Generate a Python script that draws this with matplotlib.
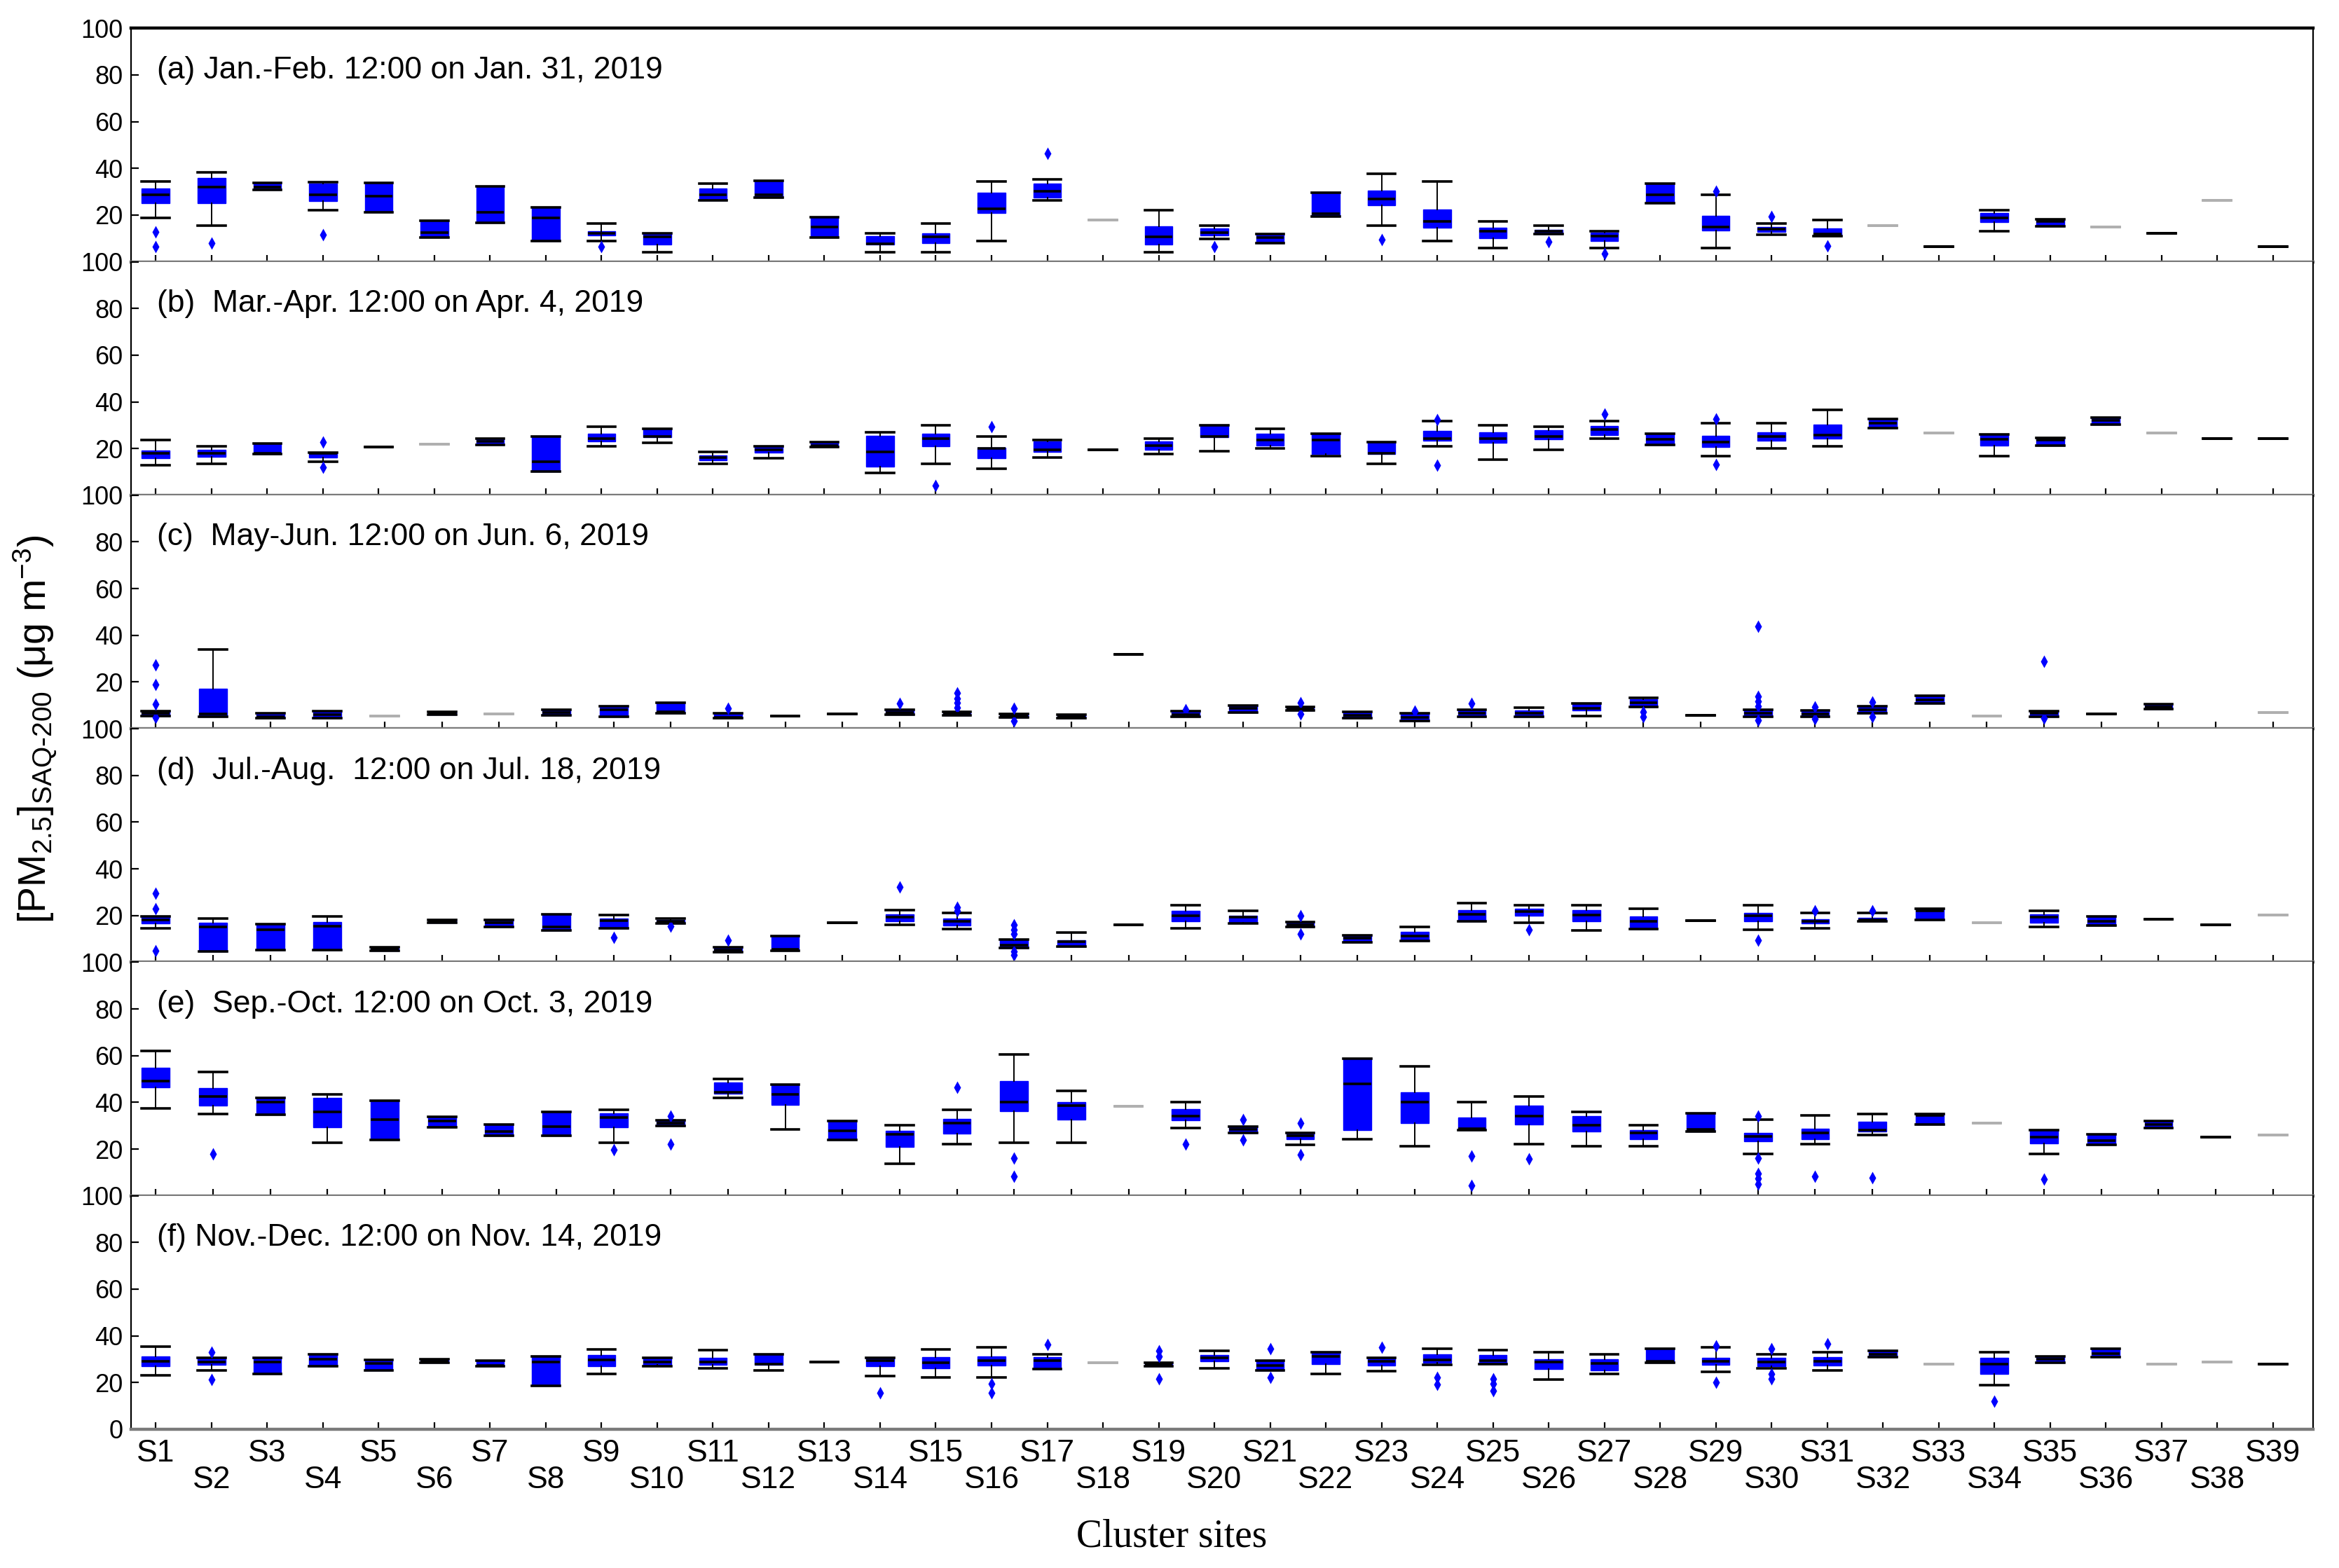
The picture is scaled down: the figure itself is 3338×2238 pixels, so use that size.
import numpy as np
import matplotlib.pyplot as plt

plt.rcParams['font.family'] = ['Liberation Sans', 'DejaVu Sans']
plt.rcParams['mathtext.default'] = 'regular'

nan = np.nan
sites = [f"S{i}" for i in range(1, 40)]

titles = ["(a) Jan.-Feb. 12:00 on Jan. 31, 2019",
          "(b)  Mar.-Apr. 12:00 on Apr. 4, 2019",
          "(c)  May-Jun. 12:00 on Jun. 6, 2019",
          "(d)  Jul.-Aug.  12:00 on Jul. 18, 2019",
          "(e)  Sep.-Oct. 12:00 on Oct. 3, 2019",
          "(f) Nov.-Dec. 12:00 on Nov. 14, 2019"]

# ---- (a) Jan.-Feb. (39 sites) ----
q1_a = [25.2, 25.2, 30.8, 26, 21.2, 10.3, 16.8, 8.8, 11.2, 7.3,
        26.2, 27.5, 10.5, 7.3, 8, 20.8, 27.5, 18, 7.3, 11.2,
        8, 19.5, 24.2, 14.5, 10.2, 12, 9, 25.2, 13.5, 12.8,
        11, 15.5, 6.5, 17, 15.3, 15, 12.3, 26.2, 6.5]
med_a = [28.7, 32, 32, 28.7, 28, 12.5, 21.3, 18.8, 12.3, 10.8,
         28.7, 28.8, 14.8, 7.8, 10.8, 22.8, 30.3, 18, 10.7, 12.5,
         10.5, 20.5, 27, 17.2, 13, 13, 11, 28.7, 14.8, 14,
         12, 15.5, 6.5, 18.8, 17.2, 15, 12.3, 26.2, 6.5]
q3_a = [31.5, 36, 33.7, 33.5, 33.7, 17.5, 32.2, 23.2, 13, 12.3,
        31.5, 34.7, 19, 11, 12.3, 29.5, 33.5, 18, 15.2, 14.2,
        11.8, 29.5, 30.5, 22.5, 14.5, 13.8, 12.5, 33.5, 19.8, 15,
        14.2, 15.5, 6.5, 21, 18.2, 15, 12.3, 26.2, 6.5]
lo_a = [18.8, 15.5, nan, 22.2, nan, nan, nan, nan, 9, 4,
        nan, nan, nan, 4, 4, 9, 26.2, nan, 4, 9.8,
        nan, nan, 15.5, 9, 5.8, nan, 5.8, nan, 5.8, 11.5,
        nan, nan, nan, 13, nan, nan, nan, nan, nan]
hi_a = [34.5, 38.3, nan, 34.2, nan, nan, nan, nan, 16.3, nan,
        33.5, nan, nan, 12.3, 16.3, 34.5, 35.2, nan, 22.2, 15.5,
        nan, nan, 37.6, 34.4, 17.2, 15.5, 13, nan, 28.7, 16.3,
        17.8, nan, nan, 22.2, nan, nan, nan, nan, nan]
out_a = {1: [12.7, 6.5], 2: [8], 4: [11.5], 9: [6.5], 17: [46.5],
         20: [6.5], 23: [9.5], 26: [8.5], 27: [3.5], 29: [30.2],
         30: [19.3], 31: [6.8]}
faint_a = [18, 32, 36, 38]

# ---- (b) Mar.-Apr. (39 sites) ----
q1_b = [15.9, 16.4, 17.6, 16.2, 20.7, 21.9, 21.6, 10.2, 23.2, 24.9,
        15.1, 18.4, 20.6, 12.2, 20.9, 15.9, 18.6, 19.4, 19.4, 24.9,
        21.2, 17.6, 17.6, 23.4, 22.4, 23.9, 25.7, 21.6, 20.6, 23.4,
        24.2, 28.9, 26.7, 21.4, 21.2, 30.3, 26.7, 24.2, 24.2]
med_b = [17.9, 18.1, 17.9, 17.9, 20.7, 21.9, 23.2, 14.4, 24.4, 25.2,
         16.2, 19.4, 21.4, 18.7, 24.4, 20.2, 19.5, 19.4, 21.4, 25.2,
         23.6, 23.6, 18, 24.4, 24.4, 25.2, 28.1, 23.9, 22.9, 25.1,
         25.9, 30.8, 26.7, 23.9, 23.6, 32.1, 26.7, 24.2, 24.2]
q3_b = [19.2, 19.4, 22.2, 18.4, 20.7, 21.9, 24.4, 25.2, 26.4, 28.4,
        17.2, 20.9, 22.9, 25.4, 26.4, 20.4, 23, 19.4, 23.2, 30,
        26.4, 26.4, 22.9, 27.6, 26.9, 27.9, 29.6, 26.4, 25.4, 27.1,
        30.3, 32.8, 26.7, 26.2, 24.6, 33.3, 26.7, 24.2, 24.2]
lo_b = [12.9, 13.4, nan, 14.4, nan, nan, nan, nan, 21.1, 22.6,
        13.4, 15.9, nan, 9.7, 13.6, 11.4, 16.1, nan, 17.6, 18.9,
        20.2, 16.9, 13.6, 20.9, 15.4, 19.4, 24.2, nan, 16.9, 20.2,
        21.1, nan, nan, 16.9, nan, nan, nan, nan, nan]
hi_b = [23.6, 21.1, nan, nan, nan, nan, nan, nan, 29.4, 28.6,
        18.7, 21.1, nan, 26.9, 29.9, 25.1, 23.6, nan, 24.4, nan,
        28.4, nan, nan, 31.8, 29.9, 29.4, 31.8, nan, 30.8, 30.8,
        36.5, nan, nan, nan, nan, nan, nan, nan, nan]
out_b = {4: [22.9, 11.9], 15: [4.3], 16: [29.4], 24: [32.5, 12.9],
         27: [34.8], 29: [32.8, 13.2]}
faint_b = [6, 33, 37]

# ---- (c) May-Jun. (38 sites) ----
q1_c = [5.4, 5.2, 4.4, 4.4, 5.4, 6, 6.4, 5.7, 5, 6.7,
        4.4, 5.4, 6.2, 6, 5.7, 4.7, 4.4, 31.7, 5.2, 7,
        7.7, 4.4, 3.4, 5.2, 5.2, 7.7, 9.2, 5.7, 5.2, 5.2,
        6.7, 10.7, 5.4, 5.2, 6.4, 8.4, nan, 7]
med_c = [6.7, 6.4, 5, 6, 5.4, 6.6, 6.4, 7, 8.2, 7.2,
         4.7, 5.4, 6.2, 7, 6.7, 5.5, 5.2, 31.7, 6, 8.7,
         8.4, 5.7, 4.7, 6.7, 6.7, 8.7, 11.2, 5.7, 6.7, 6.4,
         8.2, 12.4, 5.4, 6.7, 6.4, 9.4, nan, 7]
q3_c = [7.4, 17.2, 6.5, 7.4, 5.4, 7.2, 6.4, 8, 9.7, 11,
        6.7, 5.4, 6.2, 8, 7.2, 6.4, 6, 31.7, 7.4, 10,
        9.2, 7.2, 6.7, 8.2, 7.7, 10.7, 12.7, 5.7, 8.2, 7.7,
        9.7, 14.2, 5.4, 7.4, 6.4, 10.4, nan, 7]
lo_c = [nan] * 25 + [5.4] + [nan] * 12
hi_c = [nan, 34] + [nan] * 22 + [9, nan, 13.2] + [nan] * 11
out_c = {1: [27.2, 19, 10.4, 4.7], 11: [8.7], 14: [10.7],
         15: [15.2, 13, 11, 9], 16: [8.7, 3.4], 19: [8.2], 21: [11.2, 6.2],
         23: [7.4], 24: [10.7], 27: [7.2, 5.2],
         29: [43.7, 13.7, 11.7, 9.7, 3.7], 30: [9.2, 4.2], 31: [11.4, 5.2],
         34: [28.7, 4.4]}
faint_c = [5, 7, 33, 38]

# ---- (d) Jul.-Aug. (38 sites) ----
q1_d = [16.5, 4.5, 5.2, 5.2, 5, 16.8, 15, 13.5, 14.5, 16.5,
        4.2, 5, 17, 17.5, 15.8, 6, 6.8, 16, 17.5, 17,
        15, 8.5, 9.2, 17.5, 20, 17.5, 14.2, 17.7, 17.5, 16.5,
        17.5, 18.2, 17, 17, 15.8, 18.5, 16, 20.2]
med_d = [18.2, 15.2, 13.8, 15.5, 5.8, 17.5, 16.8, 15.2, 17.8, 17.5,
         5.2, 5.5, 17, 19.2, 17.5, 7.2, 8.8, 16, 19.8, 19.2,
         16, 10.2, 11.2, 20.5, 21.7, 20.2, 17.5, 17.7, 20, 17.5,
         18.2, 22, 17, 19.2, 17.5, 18.5, 16, 20.2]
q3_d = [19.5, 17, 16.2, 17.2, 6.5, 18.2, 18, 20.5, 18.8, 18.2,
        6.5, 11.2, 17, 20.5, 18.8, 9.5, 9.5, 16, 22, 20,
        17.2, 11.5, 13, 22.2, 23, 22.2, 19.5, 17.7, 21.2, 18.5,
        19, 22.8, 17, 20.5, 19.5, 18.5, 16, 20.2]
lo_d = [14.5] + [nan] * 12 + [16, 14.2] + [nan] * 3 + [14.5, 16.5] + [nan] * 4 + \
       [17, 13.5, nan, nan, 14, 14.5, nan, nan, nan, 15, nan, nan, nan, nan]
hi_d = [nan, 18.7, nan, 19.5, nan, nan, nan, nan, 20.2, 18.8,
        nan, nan, nan, 22.2, 21, 9.8, 12.8, nan, 24.4, 22,
        nan, nan, 15.2, 25.2, 24.3, 24.3, 22.8, nan, 24.3, 21,
        21, nan, nan, 22, nan, nan, nan, nan]
out_d = {1: [29.5, 23, 5], 9: [10.5], 10: [15.5], 11: [9.5], 14: [32.2],
         15: [23.5, 22], 16: [16, 14, 12, 4.5, 3], 21: [20, 12.2],
         25: [14], 29: [9.5], 30: [22], 31: [22]}
faint_d = [33, 38]

# ---- (e) Sep.-Oct. (38 sites) ----
q1_e = [46.3, 38.5, 34.8, 29.2, 24, 29.2, 25.8, 25.8, 29.2, 30,
        43.8, 38.8, 24, 20.8, 26.5, 36.2, 32.5, 38.3, 32.2, 27,
        24.2, 28.2, 31.2, 28, 30.5, 27.5, 24.2, 27.5, 23.2, 24.2,
        27.5, 30.5, 31, 22.5, 21.8, 29, 25.2, 26]
med_e = [49, 42.5, 40, 36, 32.7, 32, 27.5, 29.5, 33.5, 31,
         44.2, 43.3, 27.7, 26.2, 31, 40, 38.5, 38.3, 34.2, 28.5,
         25.8, 48, 40, 28.8, 34.2, 30.2, 27, 28.5, 25.3, 27,
         28.2, 34.5, 31, 25.2, 23.7, 30.5, 25.2, 26]
q3_e = [54.8, 46, 41.8, 42, 40.8, 33.7, 30.5, 36, 35.2, 32.2,
        48.5, 47.5, 32, 27.8, 33, 49.2, 40, 38.3, 37.2, 29.5,
        27, 58.8, 44.2, 33.5, 38.5, 34.2, 28, 35.2, 27, 28.8,
        31.8, 35, 31, 28, 26.2, 32, 25.2, 26]
lo_e = [37.5, 35, nan, 22.8, nan, nan, nan, nan, 22.8, nan,
        41.8, 28.5, nan, 13.7, 22, 22.8, 22.8, nan, 29, nan,
        21.8, 24.3, 21.2, nan, 22, 21.2, 21.2, nan, 18, 22,
        26, nan, nan, 18, nan, nan, nan, nan]
hi_e = [62, 53, nan, 43.3, nan, nan, nan, nan, 36.8, nan,
        50, nan, nan, 30.2, 36.8, 60.5, 44.8, nan, 40.2, nan,
        nan, nan, 55.5, 40, 42.5, 36, 30.2, nan, 32.7, 34.3,
        35, nan, nan, nan, nan, nan, nan, nan]
out_e = {2: [17.8], 9: [19.8], 10: [34.2, 22.2], 15: [46.5], 16: [16, 8.2],
         19: [22], 20: [32.5, 24], 21: [31, 17.5], 24: [17, 4.3], 25: [15.8],
         29: [34, 16, 9.5, 7.5, 5], 30: [8.3], 31: [7.8], 34: [7.2]}
faint_e = [18, 33, 38]

# ---- (f) Nov.-Dec. (39 sites) ----
q1_f = [27.1, 27.7, 23.6, 27.1, 25.3, 28.4, 26.9, 18.6, 27.1, 27.7,
        27.7, 27.7, 28.7, 26.9, 26, 27.4, 25.8, 28.6, 26.9, 29.1,
        25.3, 27.9, 27.4, 28.4, 27.9, 25.8, 25.3, 28.4, 27.7, 27.1,
        27.4, 31, 27.9, 23.6, 28.4, 31, 27.9, 28.7, 27.9]
med_f = [29.1, 28.9, 28.7, 30, 28.1, 29.1, 27.4, 28.7, 29.6, 28.7,
         28.9, 27.9, 28.7, 29.4, 28.5, 29.4, 29.4, 28.6, 27.9, 30.5,
         27.4, 31.2, 29.1, 29.6, 29.4, 28.7, 28.1, 29, 29, 28.9,
         29.2, 32.2, 27.9, 27.9, 30, 32.5, 27.9, 28.7, 27.9]
q3_f = [31.2, 30.3, 30.5, 32, 29.6, 30, 29.4, 31.3, 31.8, 30.7,
        30.5, 32, 28.7, 30.5, 31, 31.2, 31, 28.6, 28.4, 31.7,
        29.4, 33, 30.5, 32, 31.7, 30, 30, 34.6, 30.7, 30.5,
        31, 33.6, 27.9, 30.5, 31.2, 34.6, 27.9, 28.7, 27.9]
lo_f = [23.2, 25.3, nan, nan, nan, nan, nan, nan, 23.6, 26.9,
        26, 25.3, nan, 22.9, 22.2, 22.2, nan, nan, nan, 26,
        nan, 23.8, 24.8, 27.7, nan, 21.2, 23.8, nan, 24.6, 26,
        25.3, nan, nan, 18.8, nan, nan, nan, nan, nan]
hi_f = [35.3, 30.5, nan, nan, nan, nan, nan, nan, 34.3, nan,
        33.8, nan, nan, nan, 34.3, 35.1, 32, nan, nan, 33.6,
        nan, nan, nan, 34.4, 33.8, 32.9, 32, nan, 35.1, 32,
        32.9, nan, nan, 32.9, nan, nan, nan, nan, nan]
out_f = {2: [33, 21.2], 14: [15.7], 16: [19.6, 15.5], 17: [36.2],
         19: [33.6, 31.2, 21.7], 21: [34.6, 22.2], 23: [35.1],
         24: [22.2, 19.1], 25: [21.7, 19.6, 16.5], 29: [35.6, 20.1],
         30: [34.6, 23.8, 21.7], 31: [36.7], 34: [11.9]}
faint_f = [18, 33, 37, 38]

panels = [(q1_a, med_a, q3_a, lo_a, hi_a, out_a, faint_a),
          (q1_b, med_b, q3_b, lo_b, hi_b, out_b, faint_b),
          (q1_c, med_c, q3_c, lo_c, hi_c, out_c, faint_c),
          (q1_d, med_d, q3_d, lo_d, hi_d, out_d, faint_d),
          (q1_e, med_e, q3_e, lo_e, hi_e, out_e, faint_e),
          (q1_f, med_f, q3_f, lo_f, hi_f, out_f, faint_f)]

blue = '#0000ff'
fig = plt.figure(figsize=(16.69, 11.19), dpi=200)

left, width = 0.0559, 0.933
top, bottom = 0.982, 0.0885
h = (top - bottom) / 6

for k, (q1, med, q3, lo, hi, out, faint) in enumerate(panels):
    ax = fig.add_axes([left, top - (k + 1) * h, width, h])
    n = len(q1)
    # panels c-e hold 38 sites spread over the same width
    pos = 1 + (38 / (n - 1)) * np.arange(n)

    groups = {False: ([], []), True: ([], [])}
    for i in range(n):
        if np.isnan(med[i]):
            continue
        s = dict(med=med[i], q1=q1[i], q3=q3[i],
                 whislo=q1[i] if np.isnan(lo[i]) else lo[i],
                 whishi=q3[i] if np.isnan(hi[i]) else hi[i],
                 fliers=out.get(i + 1, []))
        g = groups[(i + 1) in faint]
        g[0].append(s)
        g[1].append(pos[i])

    for is_faint, (st, ps) in groups.items():
        if not st:
            continue
        dark = '#b0b0b0' if is_faint else 'black'
        face = '#b0b0b0' if is_faint else blue
        ax.bxp(st, positions=ps, widths=0.5, capwidths=0.5, patch_artist=True,
               manage_ticks=False,
               boxprops=dict(facecolor=face, edgecolor=face, linewidth=0.5),
               medianprops=dict(color=dark, linewidth=1.3),
               whiskerprops=dict(color=dark, linewidth=0.7),
               capprops=dict(color=dark, linewidth=1.3),
               flierprops=dict(marker='d', markerfacecolor=blue,
                               markeredgecolor='none', markersize=4.5))

    ax.set_xlim(0.55, 39.72)
    ax.set_ylim(0, 100)
    ax.set_yticks([0, 20, 40, 60, 80, 100])
    if k < 5:
        ax.set_yticklabels(['', '20', '40', '60', '80', '100'])
    else:
        ax.set_yticklabels(['0', '20', '40', '60', '80', '100'])
    ax.tick_params(axis='y', direction='in', length=4, width=0.8,
                   labelsize=13, pad=4)
    ax.set_xticks(pos)
    ax.tick_params(axis='x', direction='in', length=3.5, width=0.8)
    if k < 5:
        ax.set_xticklabels([])
    else:
        labs = [s if i % 2 == 0 else '\n' + s for i, s in enumerate(sites)]
        ax.set_xticklabels(labs, fontsize=16, linespacing=0.9)
        ax.tick_params(axis='x', pad=5)

    for side in ['left', 'right']:
        ax.spines[side].set_linewidth(0.8)
    ax.spines['bottom'].set_color('#7a7a7a')
    ax.spines['bottom'].set_linewidth(1.6)
    ax.spines['top'].set_linewidth(1.6 if k == 0 else 0)

    ax.text(0.012, 0.82, titles[k], transform=ax.transAxes,
            fontsize=16, va='center', ha='left')

fig.text(0.015, 0.535, r'[PM$_{2.5}$]$_{SAQ\text{-}200}$ (μg m$^{-3}$)',
         rotation=90, fontsize=20, va='center', ha='center')
fig.text(0.501, 0.02, 'Cluster sites', fontsize=20, ha='center', va='center',
         family=['Liberation Serif', 'DejaVu Serif'])

fig.savefig('out.png', dpi=200)
